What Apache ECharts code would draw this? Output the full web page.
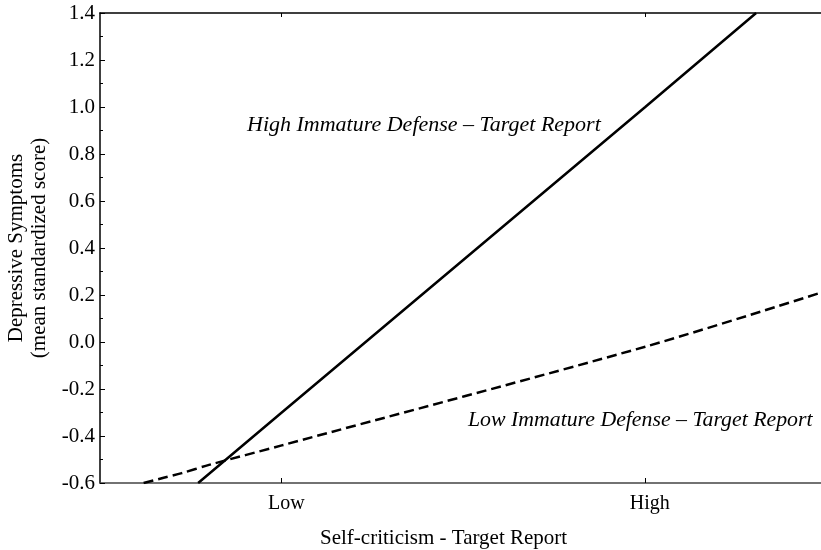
<!DOCTYPE html>
<html>
<head>
<meta charset="utf-8">
<script src="https://cdn.jsdelivr.net/npm/echarts@6/dist/echarts.min.js"></script>
<style>html,body{margin:0;padding:0;background:#fff}#c{width:821px;height:550px}</style>
</head>
<body>
<div id="c"></div>
<script>
// x: self-criticism (Low = -1 SD, High = +1 SD)
const xTickValues = [-1, 1];
const xTickLabels = {"-1": "Low", "1": "High"};
const yTicks = [-0.6, -0.4, -0.2, 0.0, 0.2, 0.4, 0.6, 0.8, 1.0, 1.2, 1.4];
// High immature defense (solid), points where line meets the frame
const highDefense = [[-1.46, -0.6], [-1, -0.30], [1, 1.00], [1.61, 1.4]];
// Low immature defense (dashed)
const lowDefense = [[-1.76, -0.6], [-1.65, -0.578], [-1.55, -0.558], [-1.4, -0.523], [-1, -0.44], [1, -0.02], [1.967, 0.21]];
const highLabel = "High Immature Defense \u2013 Target Report";
const lowLabel = "Low Immature Defense \u2013 Target Report";
const xTitle = "Self-criticism - Target Report";
const yTitle = "Depressive Symptoms\n(mean standardized score)";

const font = "'Liberation Serif', 'Times New Roman', serif";
const chart = echarts.init(document.getElementById('c'));
chart.setOption({
  animation: false,
  backgroundColor: '#fff',
  grid: {left: 100, top: 13, right: 0, height: 470, containLabel: false, outerBoundsMode: 'none'},
  xAxis: [{
    type: 'value', min: -2, max: 1.967, position: 'bottom',
    axisLine: {show: true, onZero: false, lineStyle: {color: '#444', width: 1.5}},
    axisTick: {show: true, inside: true, length: 5, customValues: xTickValues, lineStyle: {color: '#000'}},
    axisLabel: {show: true, customValues: xTickValues, formatter: v => xTickLabels[String(v)] || '', color: '#000', fontFamily: font, fontSize: 20, margin: 11, padding: [0, 0, 0, 9]},
    splitLine: {show: false}
  }, {
    type: 'value', min: -2, max: 1.967, position: 'top',
    axisLine: {show: true, onZero: false, lineStyle: {color: '#000', width: 1.5}},
    axisTick: {show: true, inside: true, length: 4, customValues: xTickValues, lineStyle: {color: '#000'}},
    axisLabel: {show: false},
    splitLine: {show: false}
  }],
  yAxis: {
    type: 'value', min: -0.6, max: 1.4, interval: 0.2,
    axisLine: {show: true, onZero: false, lineStyle: {color: '#000', width: 1.5}},
    axisTick: {show: true, inside: true, length: 5, lineStyle: {color: '#000'}},
    minorTick: {show: true, splitNumber: 2, length: 3, lineStyle: {color: '#000'}},
    axisLabel: {color: '#000', fontFamily: font, fontSize: 21, margin: 5, formatter: v => v.toFixed(1)},
    splitLine: {show: false},
    name: yTitle, nameLocation: 'middle', nameRotate: 90, nameGap: 46,
    nameTextStyle: {color: '#000', fontFamily: font, fontSize: 21, lineHeight: 23}
  },
  series: [{
    type: 'line', data: highDefense, symbol: 'none', clip: true,
    lineStyle: {color: '#000', width: 2.5, type: 'solid'}
  }, {
    type: 'line', data: lowDefense, symbol: 'none', clip: true, smooth: 0.3,
    lineStyle: {color: '#000', width: 2.5, type: [10, 5]}
  }],
  graphic: [
    {type: 'text', left: 247, top: 114, style: {text: highLabel, fontFamily: font, fontStyle: 'italic', fontSize: 22, fill: '#000'}},
    {type: 'text', left: 468, top: 409, style: {text: lowLabel, fontFamily: font, fontStyle: 'italic', fontSize: 21.8, fill: '#000'}},
    {type: 'text', left: 320, top: 528, style: {text: xTitle, fontFamily: font, fontSize: 21, fill: '#000'}}
  ]
});
</script>
</body>
</html>
